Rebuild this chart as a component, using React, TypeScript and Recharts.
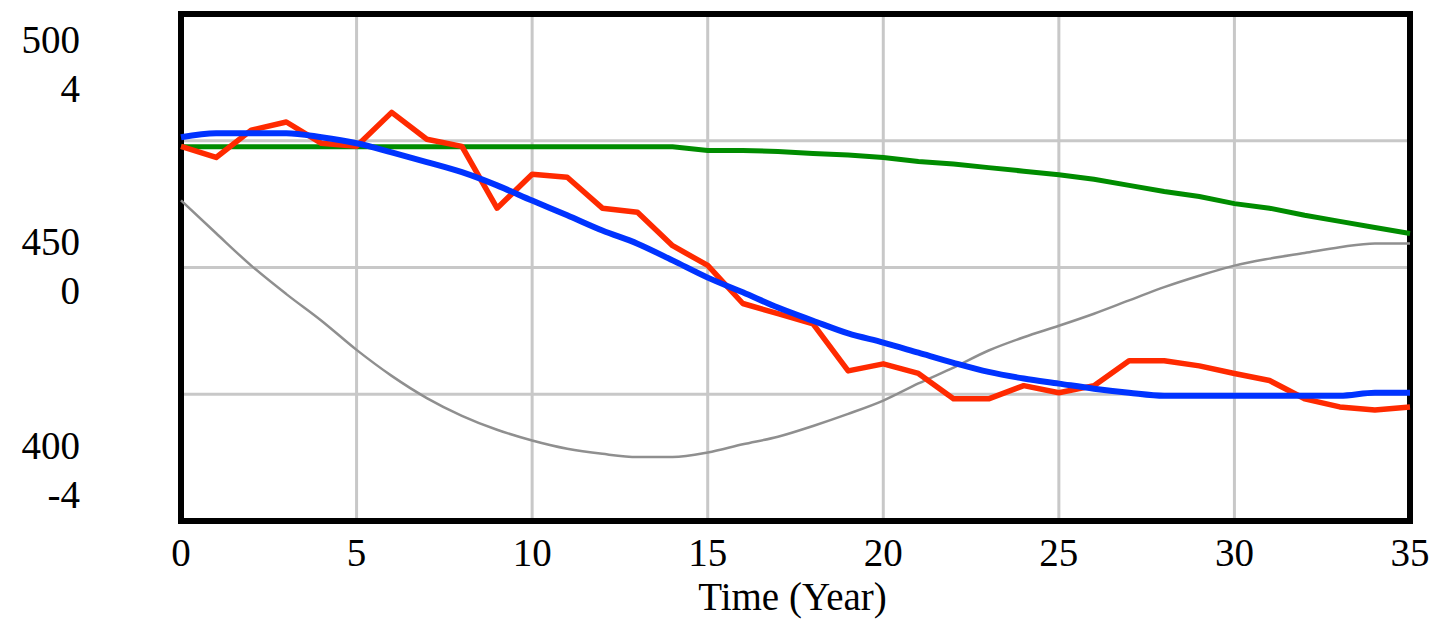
import React from "react"
import { LineChart, Line, XAxis, YAxis, CartesianGrid, ReferenceArea } from "recharts"

// simulation output, read per year
const years = [
  0, 1, 2, 3, 4, 5, 6, 7, 8, 9, 10, 11, 12, 13, 14, 15, 16, 17,
  18, 19, 20, 21, 22, 23, 24, 25, 26, 27, 28, 29, 30, 31, 32, 33, 34, 35,
]
const redSeries = [
  473.9, 471.7, 477.1, 478.7, 474.5, 473.9, 480.6, 475.3, 473.9, 461.7, 468.4, 467.8,
  461.7, 460.9, 454.3, 450.4, 442.9, 440.9, 438.9, 429.6, 431.0, 429.1, 424.1, 424.1,
  426.7, 425.3, 426.7, 431.6, 431.6, 430.6, 429.1, 427.7, 424.1, 422.5, 421.9, 422.5,
]
const blueSeries = [
  475.7, 476.5, 476.5, 476.5, 475.7, 474.5, 472.7, 470.8, 468.8, 466.2, 463.2, 460.3,
  457.3, 454.7, 451.4, 448.0, 445.1, 442.1, 439.5, 437.0, 435.2, 433.2, 431.2, 429.4,
  428.1, 427.1, 426.1, 425.3, 424.7, 424.7, 424.7, 424.7, 424.7, 424.7, 425.3, 425.3,
]
const greenSeries = [
  473.8, 473.8, 473.8, 473.8, 473.8, 473.8, 473.8, 473.8, 473.8, 473.8, 473.8, 473.8,
  473.8, 473.8, 473.8, 473.1, 473.1, 472.9, 472.5, 472.2, 471.7, 470.9, 470.4, 469.7,
  469.0, 468.3, 467.4, 466.2, 465.0, 464.0, 462.6, 461.7, 460.3, 459.1, 457.9, 456.7,
]
// gray one sits on the inner (-4..4) scale
const graySeries = [
  1.06, 0.54, 0.03, -0.42, -0.84, -1.3, -1.71, -2.06, -2.34, -2.56, -2.73, -2.86,
  -2.94, -2.99, -2.99, -2.92, -2.79, -2.67, -2.5, -2.31, -2.1, -1.83, -1.58, -1.31,
  -1.1, -0.92, -0.73, -0.52, -0.31, -0.13, 0.03, 0.14, 0.23, 0.32, 0.38, 0.38,
]

const xTicks = [0, 5, 10, 15, 20, 25, 30, 35]
const leftTicks = [400, 425, 450, 475, 500]
const leftLabels = [400, 450, 500]
const innerTicks = [-4, 0, 4]

const data = years.map((t, i) => ({
  t,
  red: redSeries[i],
  blue: blueSeries[i],
  green: greenSeries[i],
  gray: graySeries[i],
}))

const FONT = "'Liberation Serif', 'Times New Roman', serif"
const FONT_SIZE = 39
const LABEL_X = 80

// Vensim stacks the two scales' labels; nudge each one off its tick
const leftShift: Record<number, number> = { 500: 38.7, 450: -12.5, 400: -61.7 }
const innerShift: Record<number, number> = { 4: 87.7, 0: 36.5, [-4]: -13 }

const LeftTick = ({ y, payload }: any) => {
  if (!leftLabels.includes(payload.value)) return <g />
  return (
    <text x={LABEL_X} y={y + leftShift[payload.value]} textAnchor="end" fontFamily={FONT} fontSize={FONT_SIZE} fill="#000">
      {payload.value}
    </text>
  )
}

const InnerTick = ({ y, payload }: any) => (
  <text x={LABEL_X} y={y + innerShift[payload.value]} textAnchor="end" fontFamily={FONT} fontSize={FONT_SIZE} fill="#000">
    {payload.value}
  </text>
)

const TimeTick = ({ x, y, payload }: any) => (
  <text x={x} y={y + 45} textAnchor="middle" fontFamily={FONT} fontSize={FONT_SIZE} fill="#000">
    {payload.value}
  </text>
)

const TimeLabel = ({ viewBox }: any) => (
  <text
    x={viewBox.x + viewBox.width / 2 - 3}
    y={viewBox.y + 89}
    textAnchor="middle"
    fontFamily={FONT}
    fontSize={FONT_SIZE}
    fill="#000"
  >
    Time (Year)
  </text>
)

export default function App() {
  return (
    <div style={{ position: "absolute", left: 0, top: 0, background: "#fff" }}>
      <LineChart width={1431} height={625} data={data} margin={{ top: 14, right: 21, left: 0, bottom: 0 }}>
        <CartesianGrid yAxisId="a" stroke="#c8c8c8" strokeWidth={3} />
        <XAxis
          dataKey="t"
          type="number"
          domain={[0, 35]}
          ticks={xTicks}
          height={104}
          axisLine={false}
          tickLine={false}
          tickSize={0}
          tickMargin={0}
          tick={<TimeTick />}
          label={<TimeLabel />}
        />
        <YAxis
          yAxisId="a"
          domain={[400, 500]}
          ticks={leftTicks}
          width={180}
          axisLine={false}
          tickLine={false}
          tickSize={0}
          tick={<LeftTick />}
        />
        <YAxis
          yAxisId="b"
          domain={[-4, 4]}
          ticks={innerTicks}
          width={1}
          axisLine={false}
          tickLine={false}
          tickSize={0}
          tick={<InnerTick />}
        />
        <Line yAxisId="b" type="monotone" dataKey="gray" stroke="#8f8f8f" strokeWidth={2.5} dot={false} isAnimationActive={false} />
        <Line yAxisId="a" dataKey="green" stroke="#008c00" strokeWidth={5} dot={false} isAnimationActive={false} />
        <Line yAxisId="a" dataKey="red" stroke="#ff2a00" strokeWidth={5.5} dot={false} strokeLinejoin="round" isAnimationActive={false} />
        <Line yAxisId="a" type="monotone" dataKey="blue" stroke="#0033ff" strokeWidth={6} dot={false} isAnimationActive={false} />
        <ReferenceArea
          yAxisId="a"
          x1={0}
          x2={35}
          y1={400}
          y2={500}
          fill="none"
          fillOpacity={0}
          stroke="#000"
          strokeWidth={6}
          strokeOpacity={1}
          ifOverflow="visible"
        />
      </LineChart>
    </div>
  )
}
